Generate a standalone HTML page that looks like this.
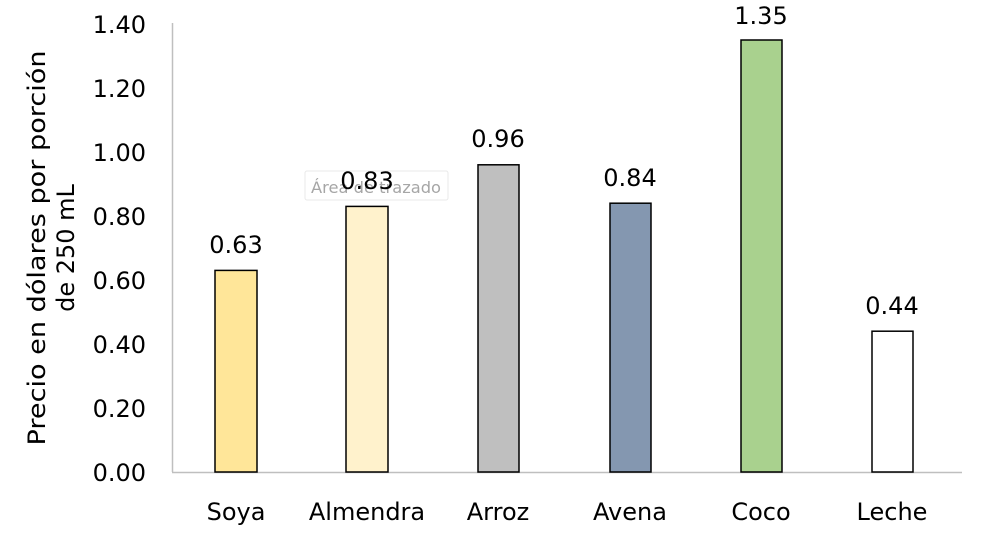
<!DOCTYPE html>
<html><head><meta charset="utf-8"><style>
html,body{margin:0;padding:0;background:#fff;width:1000px;height:534px;overflow:hidden}
svg{display:block;font-family:"DejaVu Sans","Liberation Sans",sans-serif}
</style></head><body>
<svg width="1000" height="534" viewBox="0 0 1000 534">
<g font-size="24" fill="#000" text-anchor="end">
<text x="146" y="481">0.00</text>
<text x="146" y="417">0.20</text>
<text x="146" y="353">0.40</text>
<text x="146" y="289">0.60</text>
<text x="146" y="225">0.80</text>
<text x="146" y="161">1.00</text>
<text x="146" y="97">1.20</text>
<text x="146" y="33">1.40</text>
</g>
<g font-size="24" text-anchor="middle" transform="rotate(-90)">
<text x="-248" y="45" textLength="395" lengthAdjust="spacingAndGlyphs">Precio en dólares por porción</text>
<text x="-248" y="74">de 250 mL</text>
</g>
<line x1="172.5" y1="23" x2="172.5" y2="472" stroke="#bfbfbf" stroke-width="1.5"/>
<line x1="172" y1="472.5" x2="962" y2="472.5" stroke="#bfbfbf" stroke-width="1.5"/>
<g stroke="#000" stroke-width="1.5">
<rect x="215" y="270.4" width="42" height="201.6" fill="#ffe699"/>
<rect x="346" y="206.4" width="42" height="265.6" fill="#fff2cc"/>
<rect x="478" y="164.8" width="41" height="307.2" fill="#bfbfbf"/>
<rect x="610" y="203.2" width="41" height="268.8" fill="#8497b0"/>
<rect x="741" y="40" width="41" height="432" fill="#a9d18e"/>
<rect x="872" y="331.2" width="41" height="140.8" fill="#fff"/>
</g>
<rect x="305" y="171" width="143" height="29" rx="2" fill="#fff" stroke="#e8e8e8"/>
<text x="376" y="193" font-size="16" fill="#a6a6a6" text-anchor="middle" textLength="130" lengthAdjust="spacingAndGlyphs">Área de trazado</text>
<g font-size="24" text-anchor="middle">
<text x="236" y="253">0.63</text>
<text x="367" y="189">0.83</text>
<text x="498" y="147">0.96</text>
<text x="630" y="186">0.84</text>
<text x="761" y="24">1.35</text>
<text x="892" y="314">0.44</text>
</g>
<g font-size="24" text-anchor="middle">
<text x="236" y="520">Soya</text>
<text x="367" y="520">Almendra</text>
<text x="498" y="520">Arroz</text>
<text x="630" y="520">Avena</text>
<text x="761" y="520">Coco</text>
<text x="892" y="520">Leche</text>
</g>
</svg>
</body></html>
